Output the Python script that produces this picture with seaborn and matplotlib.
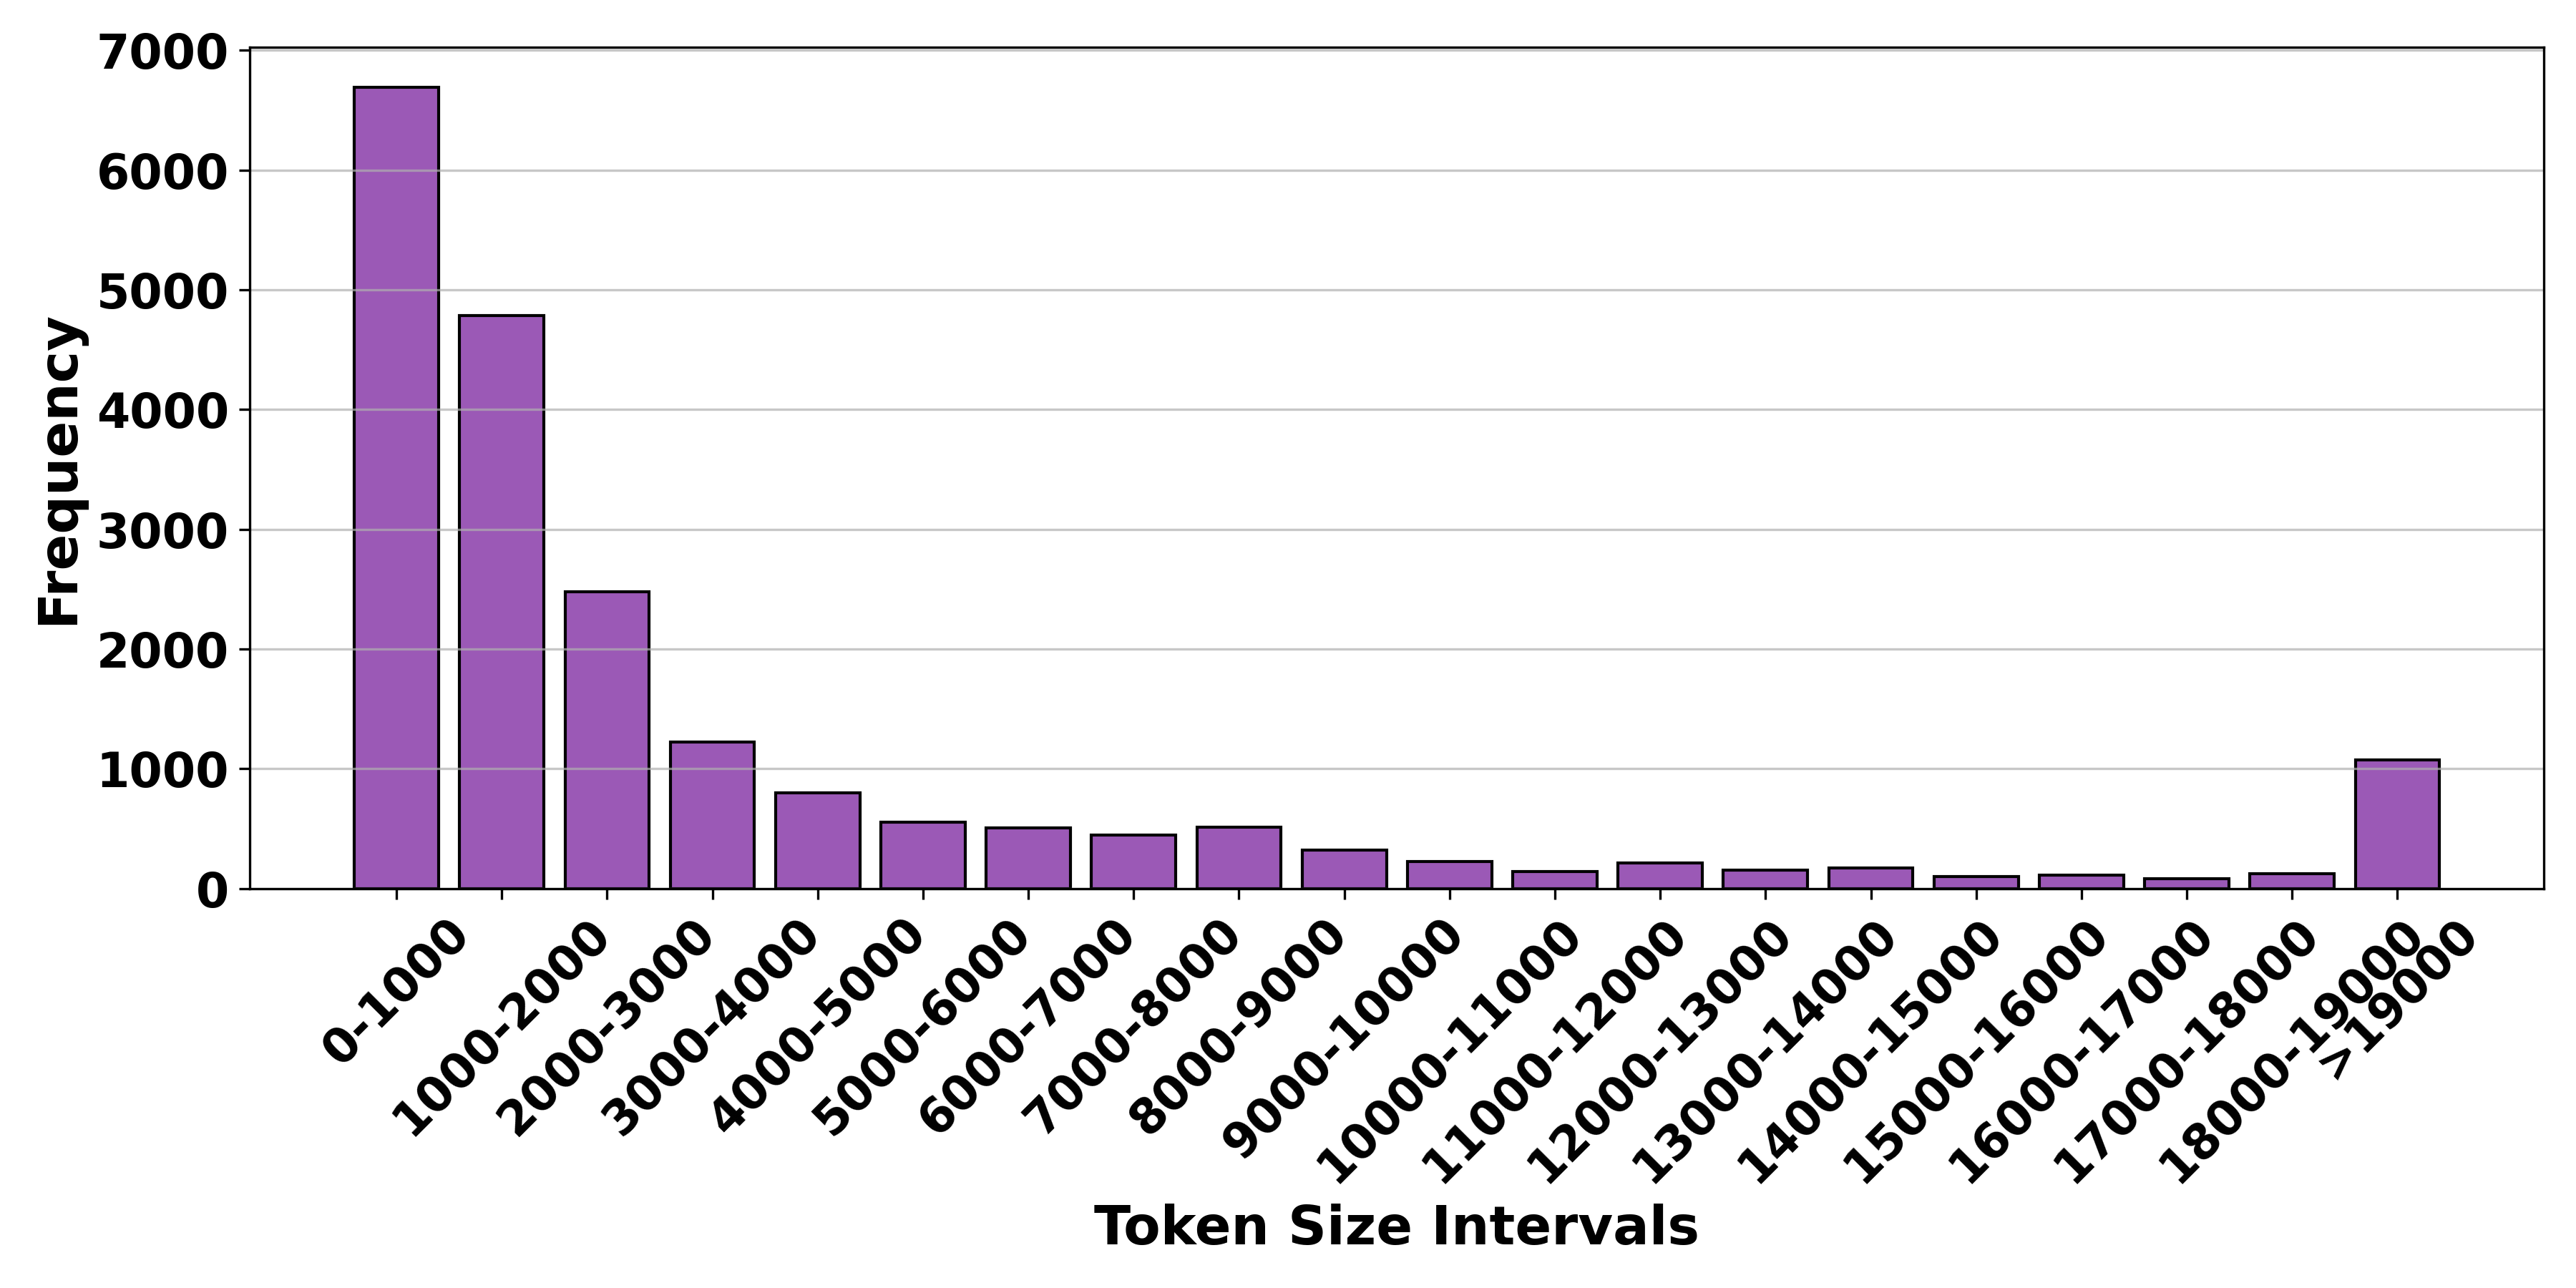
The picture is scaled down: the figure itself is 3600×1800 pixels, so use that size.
import numpy as np
import pandas as pd
import seaborn as sns
import matplotlib.pyplot as plt

plt.rcParams.update({'font.weight': 'bold', 'axes.labelweight': 'bold'})

# token size bins and how many samples fall in each
intervals = ['0-1000', '1000-2000', '2000-3000', '3000-4000', '4000-5000',
             '5000-6000', '6000-7000', '7000-8000', '8000-9000', '9000-10000',
             '10000-11000', '11000-12000', '12000-13000', '13000-14000',
             '14000-15000', '15000-16000', '16000-17000', '17000-18000',
             '18000-19000', '>19000']
frequency = [6692, 4786, 2480, 1224, 800, 553, 504, 444, 510, 319,
             223, 145, 211, 157, 169, 98, 110, 80, 122, 1072]

df = pd.DataFrame({'interval': intervals, 'frequency': frequency})

fig, ax = plt.subplots(figsize=(12, 6), dpi=300)
sns.barplot(data=df, x='interval', y='frequency', color='#9b59b6',
            saturation=1, edgecolor='black', linewidth=1, width=0.8, ax=ax)

# mimic matplotlib's default 5% margins (seaborn clamps them)
n = len(intervals)
pad = 0.05 * (n - 1 + 0.8)
ax.set_xlim(-0.4 - pad, n - 1 + 0.4 + pad)
ax.set_ylim(0, max(frequency) * 1.05)

ax.grid(axis='y', alpha=0.7)
ax.set_xlabel('Token Size Intervals', fontsize=18, fontweight='bold')
ax.set_ylabel('Frequency', fontsize=18, fontweight='bold')
ax.tick_params(axis='both', labelsize=16)
plt.setp(ax.get_xticklabels(), rotation=45, fontweight='bold')
plt.setp(ax.get_yticklabels(), fontweight='bold')

plt.tight_layout()
fig.savefig('out.png', dpi=300)
